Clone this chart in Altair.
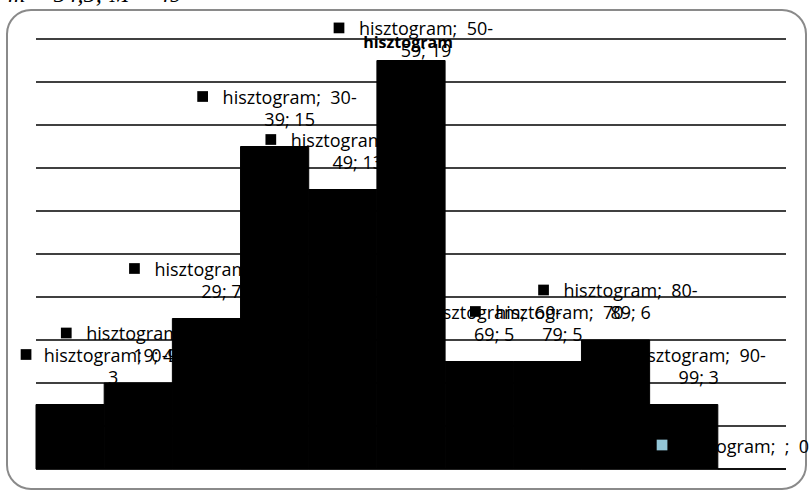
import altair as alt
import pandas as pd

# ---- data ----
categories = ["0-9", "10-19", "20-29", "30-39", "40-49", "50-59",
              "60-69", "70-79", "80-89", "90-99", ""]
counts = [3, 4, 7, 15, 13, 19, 5, 5, 6, 3, 0]
label_line1 = ["hisztogram;\u00a0 0-9;", "hisztogram;\u00a0 10-", "hisztogram;\u00a0 20-",
               "hisztogram;\u00a0 30-", "hisztogram;\u00a0 40-", "hisztogram;\u00a0 50-",
               "hisztogram;\u00a0 60-", "hisztogram;\u00a0 70-", "hisztogram;\u00a0 80-",
               "hisztogram;\u00a0 90-", ""]
label_line2 = ["3", "19; 4", "29; 7", "39; 15", "49; 13", "59; 19",
               "69; 5", "79; 5", "89; 6", "99; 3", "hisztogram;\u00a0 ;\u00a0 0"]
y_ticks = list(range(0, 21, 2))
title_text = "hisztogram"
top_text = "m = 54,5;  M = 49"

df = pd.DataFrame({
    "cat": categories,
    "i": list(range(len(categories))),
    "v": counts,
    "l1": label_line1,
    "l2": label_line2,
})
df["i2"] = df["i"] + 1
df["z"] = 0
df["nl"] = [2 if s else 1 for s in label_line1]

FONT = "Open Sans"
W, H = 750, 430

x_scale = alt.Scale(domain=[0, len(categories)], nice=False, zero=False)
y_scale = alt.Scale(domain=[0, 20], nice=False)

base = alt.Chart(df)

grid = alt.Chart(pd.DataFrame({"t": y_ticks})).mark_rule(
    color="black", strokeWidth=1.6).encode(
    y=alt.Y("t:Q", scale=y_scale, axis=None),
    x=alt.value(0), x2=alt.value(W))

bars = base.mark_rect(color="black", stroke="black", strokeWidth=1).encode(
    x=alt.X("i:Q", scale=x_scale, axis=None),
    x2="i2:Q",
    y=alt.Y("v:Q", scale=y_scale, axis=None),
    y2="z:Q",
)

lab = base.transform_calculate(
    lx="clamp(datum.i + 0.72, 1.13, 10.37)",
    ly="min(datum.v, 18.19)",
)

enc = dict(
    x=alt.X("lx:Q", scale=x_scale, axis=None),
    y=alt.Y("ly:Q", scale=y_scale, axis=None),
)

two = lab.transform_filter("datum.nl == 2")
single = lab.transform_filter("datum.nl == 1")

t1 = two.mark_text(font=FONT, fontSize=18, dy=-43, align="center",
                   baseline="alphabetic", color="black").encode(text="l1:N", **enc)
t2 = two.mark_text(font=FONT, fontSize=18, dy=-21, align="center",
                   baseline="alphabetic", color="black").encode(text="l2:N", **enc)
t3 = single.mark_text(font=FONT, fontSize=18, dy=-16, align="center",
                      baseline="alphabetic", color="black").encode(text="l2:N", **enc)

sq_color = alt.condition("datum.v == 0", alt.value("#93C6D7"), alt.value("black"))
sq2 = two.mark_square(size=115, opacity=1, filled=True).encode(
    color=sq_color, xOffset=alt.value(-87), yOffset=alt.value(-50), **enc)
sq1 = single.mark_square(size=115, opacity=1, filled=True).encode(
    color=sq_color, xOffset=alt.value(-81), yOffset=alt.value(-24), **enc)

one = alt.Chart(pd.DataFrame({"t": [title_text], "m": [top_text]}))

title = one.mark_text(font=FONT, fontSize=16, fontWeight="bold", align="center",
                      baseline="alphabetic", color="black").encode(
    text="t:N", x=alt.value(W / 2 - 3), y=alt.value(9))

top = one.mark_text(font="Liberation Serif", fontSize=24, fontStyle="italic",
                    align="left", baseline="alphabetic", color="black").encode(
    text="m:N", x=alt.value(-28), y=alt.value(-37))

border = one.mark_rect(filled=False, stroke="#8a8a8a", strokeWidth=2,
                       cornerRadius=24).encode(
    x=alt.value(-29), x2=alt.value(770), y=alt.value(-29), y2=alt.value(450))

chart = alt.layer(border, grid, bars, t1, t2, t3, sq2, sq1, title, top).properties(
    width=W, height=H,
    padding={"left": 36, "top": 39, "right": 23, "bottom": 23},
    autosize=alt.AutoSizeParams(type="none"),
    background="white",
).configure_view(stroke=None)

chart.save("out.html", embed_options={"renderer": "svg", "actions": False})
